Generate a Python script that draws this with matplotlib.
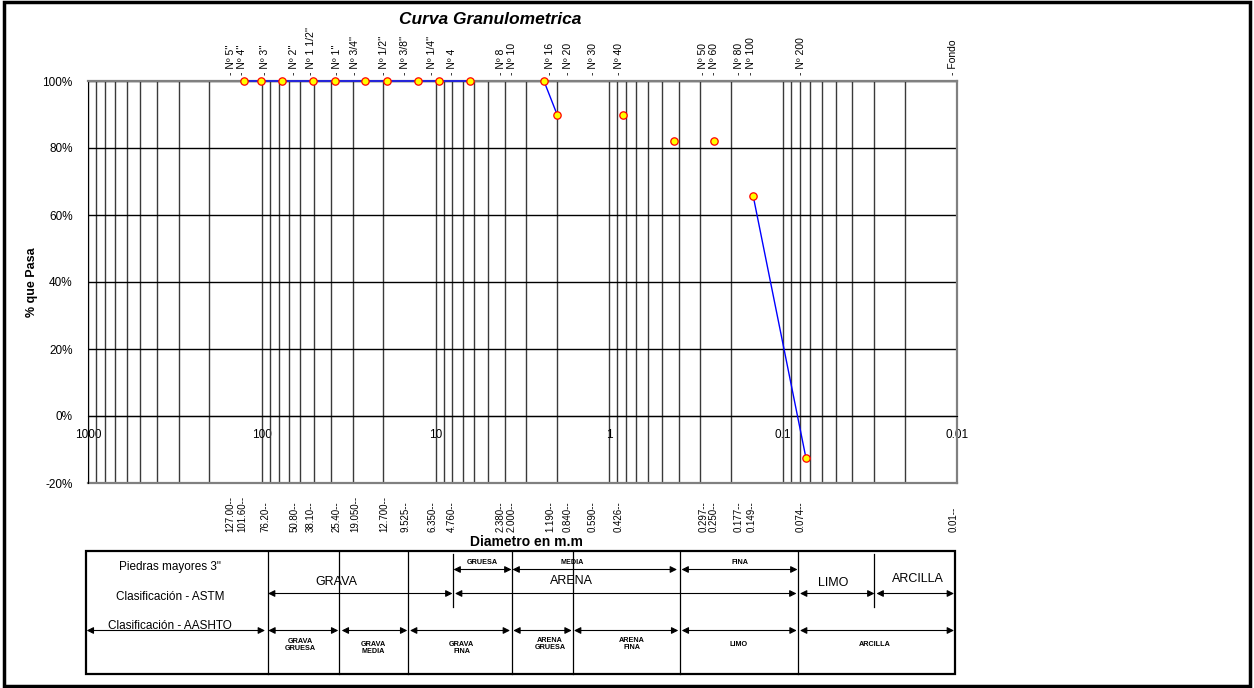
import numpy as np
import matplotlib
matplotlib.use("Agg")
import matplotlib.pyplot as plt
from matplotlib.ticker import FixedLocator, FixedFormatter, LogLocator, NullFormatter

plt.rcParams['font.family'] = ['Liberation Sans', 'DejaVu Sans']

# sieve data
sieves = ["- Nº 5''", "- Nº 4''", "- Nº 3''", "- Nº 2''", "- Nº 1 1/2''", "- Nº 1''",
          "- Nº 3/4''", "- Nº 1/2''", "- Nº 3/8''", "- Nº 1/4''", "- Nº 4", "- Nº 8",
          "- Nº 10", "- Nº 16", "- Nº 20", "- Nº 30", "- Nº 40", "- Nº 50", "- Nº 60",
          "- Nº 80", "- Nº 100", "- Nº 200", "- Fondo"]
diam_labels = ["127.00--", "101.60--", "76.20--", "50.80--", "38.10--", "25.40--",
               "19.050--", "12.700--", "9.525--", "6.350--", "4.760--", "2.380--",
               "2.000--", "1.190--", "0.840--", "0.590--", "0.426--", "0.297--",
               "0.250--", "0.177--", "0.149--", "0.074--", "0.01--"]
diameters = [127.0, 101.6, 76.2, 50.8, 38.1, 25.4, 19.05, 12.7, 9.525, 6.35, 4.76, 2.38,
             2.0, 1.19, 0.84, 0.59, 0.426, 0.297, 0.25, 0.177, 0.149, 0.074, 0.01]
pct_pass = [100, 100, 100, 100, 100, 100, 100, 100, 100, 100, np.nan, 100,
            90, np.nan, 90, np.nan, 82.2, np.nan, 82.2, np.nan, 65.8, -12.5, np.nan]

xticks = [1000, 100, 10, 1, 0.1, 0.01]
xtick_labels = ["1000", "100", "10", "1", "0.1", "0.01"]
yticks = [-20, 0, 20, 40, 60, 80, 100]

# label columns (figure pixels), as placed in the sheet
label_px = [230.5, 242, 265, 294.3, 311, 337, 355, 384, 405.5, 432, 452, 500.5, 512,
            550, 568, 593, 619, 703.5, 713.7, 738.7, 751.5, 801, 953.3]

W, H = 1254, 688
fig = plt.figure(figsize=(W / 100, H / 100), dpi=100)

# overlay in pixel coordinates for frame, labels and the classification table
ov = fig.add_axes([0, 0, 1, 1])
ov.set_xlim(0, W)
ov.set_ylim(H, 0)
ov.axis('off')

ax = fig.add_axes([88 / W, (H - 483) / H, 869 / W, (483 - 81) / H])
ax.set_facecolor('none')
ax.set_xscale('log')
ax.set_xlim(1000, 0.01)
ax.set_ylim(-20, 100)
ax.xaxis.set_major_locator(FixedLocator(xticks))
ax.xaxis.set_major_formatter(FixedFormatter(xtick_labels))
ax.xaxis.set_minor_locator(LogLocator(base=10, subs=np.arange(2, 10)))
ax.xaxis.set_minor_formatter(NullFormatter())
ax.set_yticks(yticks)
ax.set_yticklabels([f"{v}%" for v in yticks])
ax.tick_params(axis='both', which='both', length=0, labelsize=8.5)
ax.tick_params(axis='x', pad=9)
ax.tick_params(axis='y', pad=11)
ax.grid(True, axis='x', which='both', color='#3a3a3a', lw=1)
ax.grid(True, axis='y', which='major', color='black', lw=1)
ax.spines['bottom'].set_position(('data', 0))
ax.spines['bottom'].set_color('black')
ax.spines['left'].set_color('black')
for s in ['top', 'right']:
    ax.spines[s].set_color('#808080')
    ax.spines[s].set_linewidth(1.6)
ax.axhline(-20, color='#808080', lw=1.6, clip_on=False)

ax.plot(diameters, pct_pass, color='#0000FF', lw=1, marker='o', markersize=5.3,
        markerfacecolor='#FFFF00', markeredgecolor='#FF0000', markeredgewidth=0.9,
        clip_on=False, zorder=5)

# titles
ov.text(490, 19, "Curva Granulometrica", fontsize=12.5, fontweight='bold',
        fontstyle='italic', ha='center', va='center')
ov.text(32, 282, "% que Pasa", fontsize=9, fontweight='bold', rotation=90,
        ha='center', va='center')
ov.text(526, 542, "Diametro en m.m", fontsize=10, fontweight='bold',
        ha='center', va='center')

for x, s in zip(label_px, sieves):
    ov.text(x, 75, s, rotation=90, fontsize=7.5, ha='center', va='bottom')
for x, s in zip(label_px, diam_labels):
    ov.text(x, 532, s, rotation=90, fontsize=7, ha='center', va='bottom')

# classification table
tb_left, tb_right, tb_top, tb_bot = 86, 955, 551, 674
ov.add_patch(plt.Rectangle((tb_left, tb_top), tb_right - tb_left, tb_bot - tb_top,
                           fill=False, ec='black', lw=1.6))
full_cols = [267.7, 339.3, 408.3, 511.7, 572.7, 680, 797.7]
short_cols = [453.3, 874.3]
for x in full_cols:
    ov.plot([x, x], [tb_top, tb_bot], color='black', lw=0.9)
for x in short_cols:
    ov.plot([x, x], [tb_top + 3, 607], color='black', lw=0.9)

arrow_rows = {
    569.5: [(453.5, 511.5), (512.5, 677), (681.5, 797.5)],
    593.5: [(268, 452.5), (455, 796.5), (800, 874.5), (876.5, 954)],
    630.5: [(86.7, 265), (268.3, 338.3), (341.7, 407.3), (410, 510), (513.3, 571.7),
            (574, 678.3), (681.7, 796.7), (800, 954)],
}
for y, spans in arrow_rows.items():
    for x0, x1 in spans:
        ov.annotate("", xy=(x1, y), xytext=(x0, y),
                    arrowprops=dict(arrowstyle='<|-|>', color='black', lw=0.8,
                                    mutation_scale=10, shrinkA=0, shrinkB=0))

row_labels = ['Piedras mayores 3"', "Clasificación - ASTM", "Clasificación - AASHTO"]
for y, s in zip([566.7, 596.7, 626], row_labels):
    ov.text(170, y, s, fontsize=8.5, ha='center', va='center')

astm_labels = ["GRAVA", "ARENA", "LIMO", "ARCILLA"]
astm_pos = [(336.7, 582.3), (571.7, 581), (833.3, 583.3), (918.3, 579)]
for (x, y), s in zip(astm_pos, astm_labels):
    ov.text(x, y, s, fontsize=9, ha='center', va='center')

sub_labels = ["GRUESA", "MEDIA", "FINA"]
sub_pos = [(482, 562), (571.7, 562), (740, 562)]
for (x, y), s in zip(sub_pos, sub_labels):
    ov.text(x, y, s, fontsize=5.2, fontweight='bold', ha='center', va='center')

aashto_labels = ["GRAVA\nGRUESA", "GRAVA\nMEDIA", "GRAVA\nFINA", "ARENA\nGRUESA",
                 "ARENA\nFINA", "LIMO", "ARCILLA"]
aashto_pos = [(300, 645), (373.3, 647.7), (461.7, 648.3), (550, 644), (631.7, 644),
              (738.3, 645), (875, 645)]
for (x, y), s in zip(aashto_pos, aashto_labels):
    ov.text(x, y, s, fontsize=5.2, fontweight='bold', ha='center', va='center',
            linespacing=1.0, multialignment='center')

# outer frame
ov.add_patch(plt.Rectangle((4, 1.5), 1246, 684, fill=False, ec='black', lw=2.5))

fig.savefig("out.png", dpi=100)
